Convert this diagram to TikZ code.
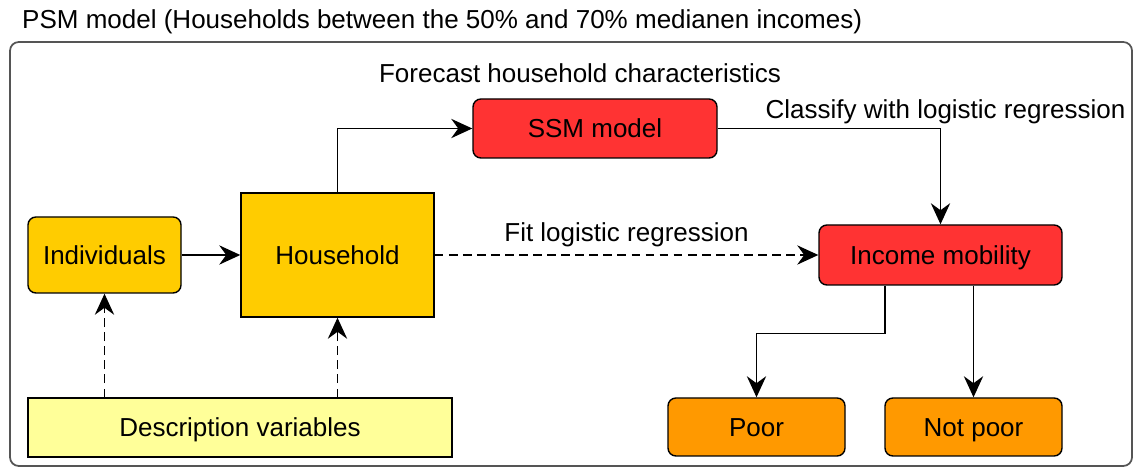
\documentclass[tikz,border=0pt]{standalone}
\usepackage{fontspec}
\setmainfont{Liberation Sans}
\usepackage{tikz}
\usetikzlibrary{arrows.meta,positioning,calc}
\usepackage{xcolor}
\definecolor{boxyellow}{HTML}{FFCC00}
\definecolor{paleyellow}{HTML}{FFFF99}
\definecolor{boxred}{HTML}{FF3333}
\definecolor{boxorange}{HTML}{FF9900}
\definecolor{framegray}{HTML}{555555}

\begin{document}
\begin{tikzpicture}[
    font=\fontsize{14.8}{17}\selectfont,
    box/.style={draw, line width=0.8pt, inner sep=0pt, text height=13.6pt, text depth=3pt},
    rbox/.style={box, rounded corners=4.5pt},
    arr/.style={-{Stealth[length=12pt,width=11pt,inset=4pt]}, line width=0.8pt},
    darr/.style={arr, dashed, dash pattern=on 5pt off 3pt}
  ]
  \useasboundingbox (0,0) rectangle (22.72,-9.48);
  % outer frame and title
  \draw[framegray, line width=1pt, rounded corners=5pt] (0.2,-0.84) rectangle (22.64,-9.32);
  \node[anchor=west] (title) at (0.32,-0.44)
    {PSM model (Households between the 50\% and 70\% medianen incomes)};
  \node (forecast) at (11.6,-1.46) {Forecast household characteristics};

  \node[rbox, fill=boxyellow, minimum width=3.06cm, minimum height=1.52cm]
    (ind) at (2.09,-5.10) {Individuals};
  \node[box, fill=boxyellow, minimum width=3.86cm, minimum height=2.48cm]
    (hh) at (6.75,-5.10) {Household};
  \node[box, fill=paleyellow, minimum width=8.48cm, minimum height=1.18cm]
    (desc) at (4.80,-8.55) {Description variables};
  \node[rbox, fill=boxred, minimum width=4.88cm, minimum height=1.18cm]
    (ssm) at (11.90,-2.57) {SSM model};
  \node[rbox, fill=boxred, minimum width=4.86cm, minimum height=1.20cm]
    (inc) at (18.81,-5.10) {Income mobility};
  \node[rbox, fill=boxorange, minimum width=3.54cm, minimum height=1.16cm]
    (poor) at (15.13,-8.54) {Poor};
  \node[rbox, fill=boxorange, minimum width=3.54cm, minimum height=1.16cm]
    (notpoor) at (19.47,-8.54) {Not poor};

  \draw[arr] (ind) -- (hh);
  \draw[arr] (hh.north) |- (ssm.west);
  \draw[arr] (ssm.east) -| node[above, pos=0.5, inner sep=2pt, xshift=0.1cm] {Classify with logistic regression} (inc.north);
  \draw[darr] (hh) -- (inc) node[above, midway, inner sep=4pt] {Fit logistic regression};
  \draw[darr] (desc.north -| ind.south) -- (ind.south);
  \draw[darr] (desc.north -| hh.south) -- (hh.south);
  \coordinate (split) at ($(inc.south)+(-1.11,-0.96)$);
  \draw[arr] (split |- inc.south) -- (split) -| (poor.north);
  \draw[arr] (notpoor.north |- inc.south) -- (notpoor.north);
\end{tikzpicture}
\end{document}
